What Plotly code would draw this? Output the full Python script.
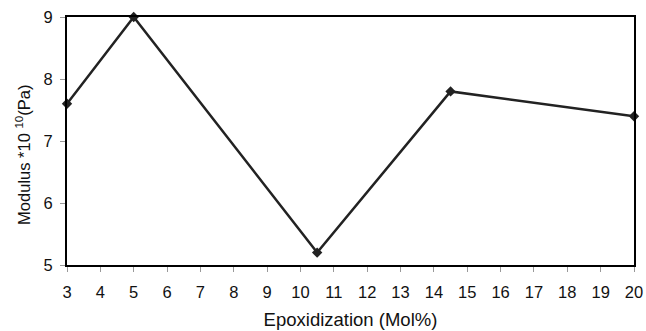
import plotly.graph_objects as go

epox = [3, 5, 10.5, 14.5, 20]
modulus = [7.6, 9.0, 5.2, 7.8, 7.4]
x_ticks = list(range(3, 21))
y_ticks = [5, 6, 7, 8, 9]

fig = go.Figure()
fig.add_trace(go.Scatter(
    x=epox, y=modulus, mode="lines+markers",
    line=dict(color="#222222", width=2.5),
    marker=dict(symbol="diamond", size=8, color="#222222"),
    showlegend=False, cliponaxis=False,
))

font = dict(family="Liberation Sans", size=16.5, color="#111111")
xtitle_font = dict(family="Liberation Sans", size=18.5, color="#111111")
ytitle_font = dict(family="Liberation Sans", size=16.5, color="#111111")
fig.update_layout(
    width=646, height=331,
    margin=dict(l=67, r=12, t=17, b=66),
    paper_bgcolor="white", plot_bgcolor="white",
    font=font,
    xaxis=dict(
        range=[3, 20], tickvals=x_ticks, ticktext=[str(v) for v in x_ticks],
        showgrid=False, zeroline=False, automargin=False,
        showline=True, linecolor="black", linewidth=2, mirror=True,
        ticks="outside", ticklen=5, tickcolor="#999999", tickwidth=1,
        ticklabelstandoff=6,
        title=dict(text="Epoxidization (Mol%)", standoff=13, font=xtitle_font),
    ),
    yaxis=dict(
        range=[5, 9], tickvals=y_ticks,
        showgrid=False, zeroline=False, automargin=False,
        showline=True, linecolor="black", linewidth=2, mirror=True,
        ticks="outside", ticklen=5, tickcolor="#999999", tickwidth=1,
        ticklabelstandoff=4,
    ),
    annotations=[dict(
        text="Modulus *10 <sup>10</sup>(Pa)", font=ytitle_font,
        xref="paper", yref="paper", x=-0.0776, y=0.444,
        xanchor="center", yanchor="middle", textangle=-90, showarrow=False,
    )],
)
fig.write_html(
    "out.html",
    config={"displayModeBar": False},
    post_script="document.body.style.margin='0';document.body.style.overflow='hidden';",
)
